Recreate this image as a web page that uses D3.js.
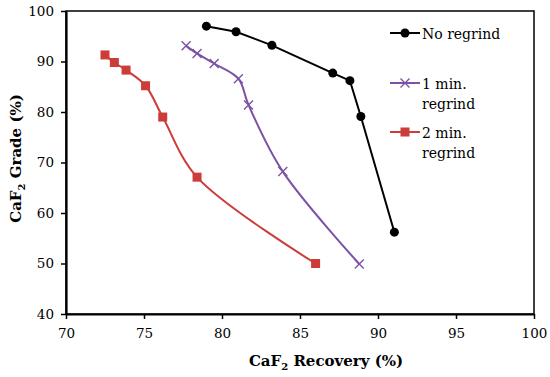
<!DOCTYPE html>
<html>
<head>
<meta charset="utf-8">
<script src="https://cdn.jsdelivr.net/npm/d3@7"></script>
<style>
  body { margin: 0; background: #fff; }
  svg text { font-family: "DejaVu Serif", "Liberation Serif", "Times New Roman", serif; fill: #000; }
</style>
</head>
<body>
<div id="chart-area"></div>
<script>
// data
const noRegrindX = [79.0, 80.9, 83.2, 87.1, 88.2, 88.9, 91.05];
const noRegrindY = [97.0, 95.9, 93.2, 87.7, 86.2, 79.1, 56.2];
const oneMinX = [77.7, 78.4, 79.5, 81.05, 81.7, 83.9, 88.8];
const oneMinY = [93.1, 91.6, 89.6, 86.6, 81.4, 68.2, 49.9];
const twoMinX = [72.5, 73.1, 73.85, 75.1, 76.2, 78.4, 86.0];
const twoMinY = [91.3, 89.8, 88.3, 85.2, 79.0, 67.1, 50.0];
const xTicks = [70, 75, 80, 85, 90, 95, 100];
const yTicks = [40, 50, 60, 70, 80, 90, 100];

const series = [
  { name: ["No regrind"], xs: noRegrindX, ys: noRegrindY, color: "#000000", marker: "circle", curve: d3.curveLinear },
  { name: ["1 min.", "regrind"], xs: oneMinX, ys: oneMinY, color: "#7b52a6", marker: "cross", curve: d3.curveCatmullRom },
  { name: ["2 min.", "regrind"], xs: twoMinX, ys: twoMinY, color: "#cc3d3a", marker: "square", curve: d3.curveCatmullRom }
];

const serif = "'DejaVu Serif', 'Liberation Serif', serif";
const margin = { top: 11, right: 16, bottom: 63, left: 66 };
const W = 550, H = 377;
const width = W - margin.left - margin.right;
const height = H - margin.top - margin.bottom;

const svg = d3.select("#chart-area")
  .append("svg")
    .attr("width", W)
    .attr("height", H);

const chart = svg.append("g")
    .attr("transform", `translate(${margin.left},${margin.top})`);

const x = d3.scaleLinear().domain([70, 100]).range([0, width]);
const y = d3.scaleLinear().domain([40, 100]).range([height, 0]);

// frame
chart.append("rect")
    .attr("width", width)
    .attr("height", height)
    .attr("fill", "none")
    .attr("stroke", "#000")
    .attr("stroke-width", 1.5);

const xAxis = chart.append("g")
    .attr("transform", `translate(0,${height})`)
    .call(d3.axisBottom(x).tickValues(xTicks).tickSize(5).tickPadding(9).tickSizeOuter(0));
const yAxis = chart.append("g")
    .call(d3.axisLeft(y).tickValues(yTicks).tickSize(5).tickPadding(7).tickSizeOuter(0));

[xAxis, yAxis].forEach(a => {
  a.attr("font-family", serif);
  a.select(".domain").attr("stroke", "#000").attr("stroke-width", 2.2);
  a.selectAll(".tick line").attr("stroke", "#000").attr("stroke-width", 1.5);
  a.selectAll(".tick text")
      .style("font-family", serif)
      .style("font-size", "13.5px")
      .attr("fill", "#000");
});

// axis titles
const xTitle = chart.append("text")
    .attr("x", 260)
    .attr("y", height + 52)
    .attr("text-anchor", "middle")
    .style("font-size", "15px")
    .style("font-weight", "bold");
xTitle.append("tspan").text("CaF");
xTitle.append("tspan").attr("dy", 4).style("font-size", "10px").text("2");
xTitle.append("tspan").attr("dy", -4).text(" Recovery (%)");

const yTitle = chart.append("text")
    .attr("transform", "rotate(-90)")
    .attr("x", -height / 2 + 4)
    .attr("y", -45)
    .attr("text-anchor", "middle")
    .style("font-size", "15px")
    .style("font-weight", "bold");
yTitle.append("tspan").text("CaF");
yTitle.append("tspan").attr("dy", 4).style("font-size", "10px").text("2");
yTitle.append("tspan").attr("dy", -4).text(" Grade (%)");

function drawMarker(g, type, color) {
  if (type === "circle") {
    g.append("circle").attr("r", 4.5).attr("fill", color);
  } else if (type === "square") {
    g.append("rect").attr("x", -4.5).attr("y", -4.5).attr("width", 9).attr("height", 9).attr("fill", color);
  } else {
    g.append("path").attr("d", "M-4.5,-4.5L4.5,4.5M-4.5,4.5L4.5,-4.5")
        .attr("stroke", color).attr("stroke-width", 1.4).attr("fill", "none");
  }
}

series.forEach(s => {
  const pts = s.xs.map((v, i) => [v, s.ys[i]]);
  const line = d3.line()
      .x(d => x(d[0]))
      .y(d => y(d[1]))
      .curve(s.curve);
  chart.append("path")
      .datum(pts)
      .attr("d", line)
      .attr("fill", "none")
      .attr("stroke", s.color)
      .attr("stroke-width", 2);
  pts.forEach(p => {
    const g = chart.append("g").attr("transform", `translate(${x(p[0])},${y(p[1])})`);
    drawMarker(g, s.marker, s.color);
  });
});

// legend
const legendY = [33, 83, 132];
series.forEach((s, i) => {
  const g = svg.append("g").attr("transform", `translate(390,${legendY[i]})`);
  g.append("line").attr("x1", 0).attr("x2", 30).attr("y1", 0).attr("y2", 0)
      .attr("stroke", s.color).attr("stroke-width", 2);
  const m = g.append("g").attr("transform", "translate(15,0)");
  drawMarker(m, s.marker, s.color);
  s.name.forEach((t, j) => {
    g.append("text")
        .attr("x", 32)
        .attr("y", 5.5 + j * 20)
        .style("font-size", "14px")
        .text(t);
  });
});
</script>
</body>
</html>
